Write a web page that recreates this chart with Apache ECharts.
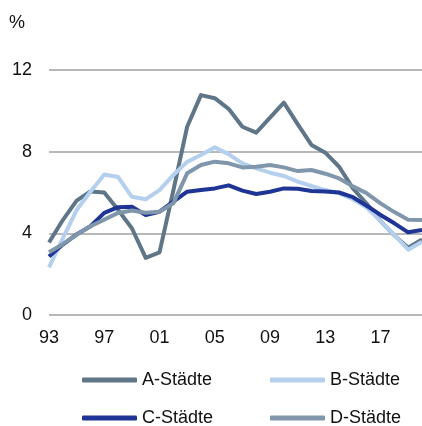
<!DOCTYPE html>
<html>
<head>
<meta charset="utf-8">
<script src="https://cdn.jsdelivr.net/npm/echarts@6/dist/echarts.min.js"></script>
<style>
  html, body { margin: 0; padding: 0; background: #fff; }
  #chart { width: 422px; height: 426px; }
</style>
</head>
<body>
<div id="chart"></div>
<script>
// Jahre 1993 - 2020
const years = ['93','94','95','96','97','98','99','00','01','02','03','04','05','06',
               '07','08','09','10','11','12','13','14','15','16','17','18','19','20'];

const aStaedte = [3.55, 4.65, 5.6, 6.05, 6.0, 5.15, 4.25, 2.8, 3.07, 6.1, 9.22, 10.77, 10.62, 10.1,
                  9.22, 8.93, 9.67, 10.4, 9.35, 8.33, 7.95, 7.26, 6.2, 5.45, 4.6, 3.9, 3.3, 3.7];
const bStaedte = [2.33, 3.75, 5.14, 6.04, 6.88, 6.76, 5.79, 5.67, 6.12, 6.86, 7.5, 7.84, 8.21, 7.88,
                  7.43, 7.18, 6.97, 6.81, 6.53, 6.32, 6.12, 5.96, 5.67, 5.26, 4.6, 3.92, 3.2, 3.59];
const cStaedte = [2.86, 3.45, 3.95, 4.35, 5.0, 5.28, 5.3, 4.9, 5.06, 5.55, 6.04, 6.12, 6.2, 6.35,
                  6.09, 5.93, 6.04, 6.2, 6.18, 6.07, 6.05, 6.0, 5.77, 5.35, 4.9, 4.49, 4.05, 4.16];
const dStaedte = [3.07, 3.47, 3.93, 4.35, 4.67, 5.0, 5.12, 5.01, 5.06, 5.47, 6.94, 7.35, 7.51, 7.43,
                  7.23, 7.26, 7.35, 7.23, 7.05, 7.1, 6.92, 6.69, 6.3, 5.96, 5.47, 5.04, 4.67, 4.65];

const names = ['A-Städte', 'B-Städte', 'C-Städte', 'D-Städte'];
const colors = ['#5f7689', '#b4d0ee', '#1f3595', '#8096ab'];

const font = 'Liberation Sans, Arial, sans-serif';

function lineSeries(name, data, color) {
  return {
    type: 'line',
    name: name,
    data: data,
    symbol: 'none',
    color: color,
    lineStyle: { width: 4, color: color, join: 'round' }
  };
}

// eine Legende pro Eintrag, damit die Spalten exakt sitzen
function legendItem(name, left, top) {
  return {
    data: [name],
    left: left,
    top: top,
    padding: 0,
    icon: 'roundRect',
    itemWidth: 55,
    itemHeight: 5,
    itemTextGap: 4,
    textStyle: { fontFamily: font, fontSize: 18, color: '#111', lineHeight: 18 }
  };
}

const chart = echarts.init(document.getElementById('chart'));
chart.setOption({
  animation: false,
  grid: { left: 49, right: 0, top: 70, bottom: 111 },
  graphic: [{
    type: 'text',
    left: 9,
    top: 14,
    style: { text: '%', fontFamily: font, fontSize: 18, fill: '#111' }
  }],
  legend: [
    legendItem(names[0], 82, 371),
    legendItem(names[1], 270, 371),
    legendItem(names[2], 82, 409),
    legendItem(names[3], 270, 409)
  ],
  xAxis: {
    type: 'category',
    data: years,
    boundaryGap: false,
    axisLine: { show: false },
    axisTick: { show: false },
    axisLabel: { interval: 3, margin: 14, fontFamily: font, fontSize: 18, color: '#111' }
  },
  yAxis: {
    type: 'value',
    min: 0,
    max: 12,
    interval: 4,
    axisLabel: { margin: 17, fontFamily: font, fontSize: 18, color: '#111' },
    splitLine: { lineStyle: { color: '#a0a0a0', width: 1.5 } }
  },
  series: [
    lineSeries(names[0], aStaedte, colors[0]),
    lineSeries(names[1], bStaedte, colors[1]),
    lineSeries(names[2], cStaedte, colors[2]),
    lineSeries(names[3], dStaedte, colors[3])
  ]
});
</script>
</body>
</html>
